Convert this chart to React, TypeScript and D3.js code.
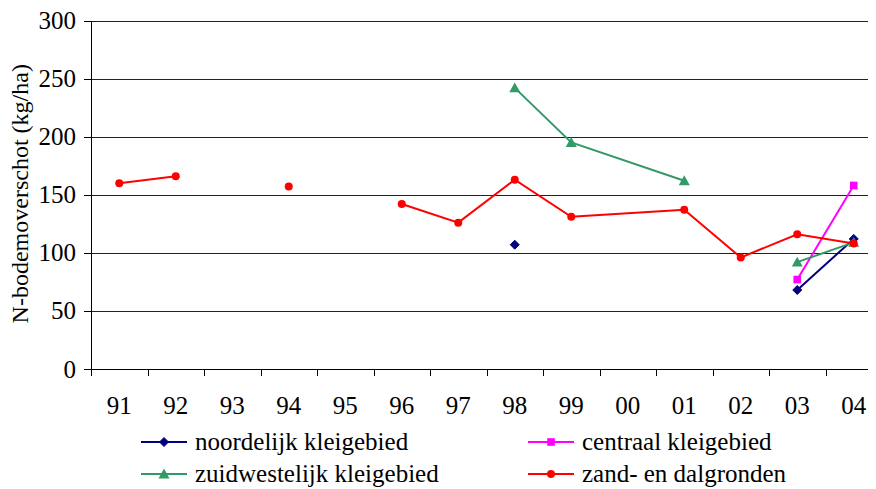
import React from "react";
import * as d3 from "d3";

const categories = ["91", "92", "93", "94", "95", "96", "97", "98", "99", "00", "01", "02", "03", "04"];
const noordelijk: (number | null)[] = [null, null, null, null, null, null, null, 107, null, null, null, null, 68, 112];
const centraal: (number | null)[] = [null, null, null, null, null, null, null, null, null, null, null, null, 77, 158];
const zuidwestelijk: (number | null)[] = [null, null, null, null, null, null, null, 242, 195, null, 162, null, 92, 109];
const zand: (number | null)[] = [160, 166, null, 157, null, 142, 126, 163, 131, null, 137, 96, 116, 108];
// categories across which lines are bridged (no break)
const bridgedCategories = ["00"];
const yTicks = [0, 50, 100, 150, 200, 250, 300];

const seriesNames = ["noordelijk kleigebied", "centraal kleigebied", "zuidwestelijk kleigebied", "zand- en dalgronden"];
const seriesColors = ["#000080", "#FF00FF", "#339966", "#FF0000"];
const seriesMarkers = ["diamond", "square", "triangle", "circle"];
const seriesValues = [noordelijk, centraal, zuidwestelijk, zand];

const W = 876;
const H = 489;
const left = 91;
const top = 20.5;
const bottom = 369;
const band = 56.5;
const right = left + band * categories.length;
const FONT = "Times New Roman";

function Marker({ type, x, y, color }: { type: string; x: number; y: number; color: string }) {
  if (type === "diamond") {
    const s = 4.5;
    return <path d={`M${x},${y - s}L${x + s},${y}L${x},${y + s}L${x - s},${y}Z`} fill={color} stroke={color} strokeWidth={1} />;
  }
  if (type === "square") {
    const s = 3.8;
    return <rect x={x - s} y={y - s} width={2 * s} height={2 * s} fill={color} />;
  }
  if (type === "triangle") {
    const s = 5.5;
    return <path d={`M${x},${y - s}L${x + s},${y + s * 0.8}L${x - s},${y + s * 0.8}Z`} fill={color} />;
  }
  return <circle cx={x} cy={y} r={4} fill={color} />;
}

export default function App() {
  const x = d3.scaleBand<string>().domain(categories).range([left, right]);
  const y = d3.scaleLinear().domain([0, 300]).range([bottom, top]);
  const cx = (c: string) => (x(c) as number) + x.bandwidth() / 2;

  const segmentsFor = (vals: (number | null)[]) => {
    const segs: [string, number][][] = [];
    let cur: [string, number][] = [];
    categories.forEach((c, i) => {
      const v = vals[i];
      if (v == null) {
        if (!bridgedCategories.includes(c)) {
          if (cur.length) segs.push(cur);
          cur = [];
        }
      } else cur.push([c, v]);
    });
    if (cur.length) segs.push(cur);
    return segs;
  };

  const line = d3
    .line<[string, number]>()
    .x((d) => cx(d[0]))
    .y((d) => y(d[1]));

  const legendPos = [
    [141, 442],
    [528, 442],
    [141, 474],
    [528, 474],
  ];

  return (
    <svg width={W} height={H} style={{ display: "block", margin: "-8px 0 0 -8px", fontFamily: FONT }}>
      <rect x={0} y={0} width={W} height={H} fill="#fff" />
      {/* gridlines */}
      {yTicks.filter((t) => t > 0).map((t) => (
        <line key={t} x1={left} x2={right} y1={Math.round(y(t)) + 0.5} y2={Math.round(y(t)) + 0.5} stroke="#222" strokeWidth={1} />
      ))}
      {/* y axis */}
      <line x1={left + 0.5} x2={left + 0.5} y1={Math.round(top)} y2={Math.round(bottom) + 0.5} stroke="#000" />
      {yTicks.map((t) => (
        <g key={t}>
          <line x1={left - 7} x2={left} y1={Math.round(y(t)) + 0.5} y2={Math.round(y(t)) + 0.5} stroke="#000" />
          <text x={76} y={y(t) + 8.5} textAnchor="end" style={{ fontFamily: FONT, fontSize: "25px" }}>
            {t}
          </text>
        </g>
      ))}
      {/* x axis */}
      <line x1={left} x2={right} y1={Math.round(bottom) + 0.5} y2={Math.round(bottom) + 0.5} stroke="#000" />
      {categories.map((c, i) => (
        <line key={"t" + c} x1={Math.round(left + band * i) + 0.5} x2={Math.round(left + band * i) + 0.5} y1={bottom} y2={bottom + 7} stroke="#000" />
      ))}
      {categories.map((c) => (
        <text key={c} x={cx(c)} y={414} textAnchor="middle" style={{ fontFamily: FONT, fontSize: "25px" }}>
          {c}
        </text>
      ))}
      <text transform={`translate(28,${(top + bottom) / 2 - 1}) rotate(-90)`} textAnchor="middle" style={{ fontFamily: FONT, fontSize: "24px" }}>
        N-bodemoverschot (kg/ha)
      </text>
      {/* series */}
      {seriesValues.map((vals, si) => (
        <g key={si}>
          {segmentsFor(vals)
            .filter((s) => s.length > 1)
            .map((s, k) => (
              <path key={k} d={line(s) as string} fill="none" stroke={seriesColors[si]} strokeWidth={2} />
            ))}
          {categories.map((c, i) =>
            vals[i] == null ? null : <Marker key={c} type={seriesMarkers[si]} x={cx(c)} y={y(vals[i] as number)} color={seriesColors[si]} />
          )}
        </g>
      ))}
      {/* legend */}
      {seriesNames.map((n, i) => (
        <g key={n}>
          <line x1={legendPos[i][0]} x2={legendPos[i][0] + 46} y1={legendPos[i][1]} y2={legendPos[i][1]} stroke={seriesColors[i]} strokeWidth={2} />
          <Marker type={seriesMarkers[i]} x={legendPos[i][0] + 23} y={legendPos[i][1]} color={seriesColors[i]} />
          <text x={legendPos[i][0] + 54} y={legendPos[i][1] + 8} style={{ fontFamily: FONT, fontSize: "25px" }}>
            {n}
          </text>
        </g>
      ))}
    </svg>
  );
}
